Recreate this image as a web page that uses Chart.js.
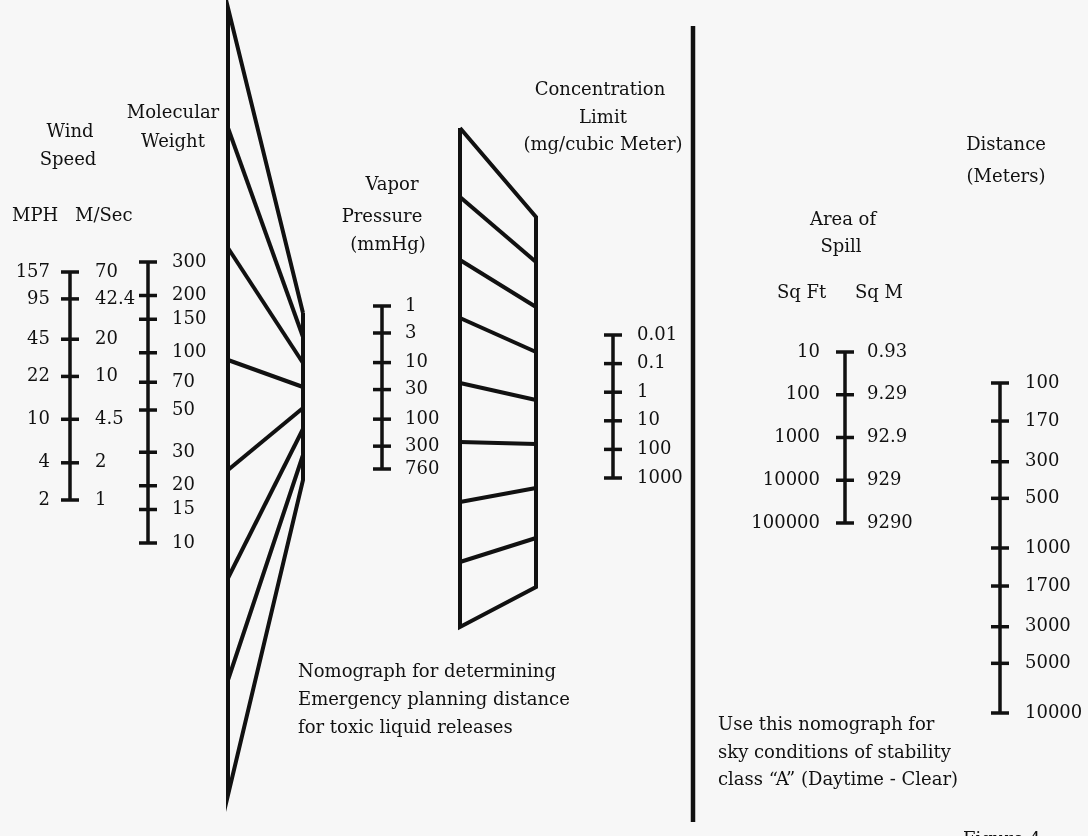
<!DOCTYPE html>
<html>
<head>
<meta charset="utf-8">
<title>Emergency planning distance nomograph</title>
<script src="https://cdn.jsdelivr.net/npm/chart.js@4.4.1/dist/chart.umd.min.js"></script>
<style>
  html, body { margin: 0; padding: 0; background: #f7f7f7; }
  #wrap { position: relative; width: 1088px; height: 836px; }
</style>
</head>
<body>
<div id="wrap"><canvas id="nomo"></canvas></div>
<script>
// Scale readings (top to bottom on each scale)
const windMps = [70, 42.4, 20, 10, 4.5, 2, 1];
const windMph = [157, 95, 45, 22, 10, 4, 2];
const molWeight = [300, 200, 150, 100, 70, 50, 30, 20, 15, 10];
const vaporPressure = [1, 3, 10, 30, 100, 300, 760];
const concLimit = [0.01, 0.1, 1, 10, 100, 1000];
const spillSqFt = [10, 100, 1000, 10000, 100000];
const spillSqM = [0.93, 9.29, 92.9, 929, 9290];
const distance = [100, 170, 300, 500, 1000, 1700, 3000, 5000, 10000];

// Turning lines (figure units), left end / right end
const fanLeft = [8, 128, 248, 360, 470, 578, 680, 795];
const fanRight = [313, 337, 363, 387, 408, 429, 455, 480];
const gridLeft = [128, 197, 260, 318, 383, 442, 502, 562, 627];
const gridRight = [217, 262, 307, 352, 400, 444, 488, 538, 587];

const W = 1088, H = 836;
const INK = '#111';
const FONT = '18px "DejaVu Serif", "Liberation Serif", serif';

// where each log scale sits on the sheet
const scalesDef = [
  { id: 'wind', x: 70, top: 272, bottom: 500, values: windMps, right: windMps, left: windMph, gapL: 20, gapR: 25 },
  { id: 'mw', x: 148, top: 262, bottom: 543, values: molWeight, right: molWeight, gapR: 24 },
  { id: 'vp', x: 382, top: 306, bottom: 469, values: vaporPressure, right: vaporPressure, gapR: 23 },
  { id: 'conc', x: 613, top: 335, bottom: 478, values: concLimit, right: concLimit, gapR: 24 },
  { id: 'spill', x: 845, top: 352, bottom: 523, values: spillSqM, right: spillSqM, left: spillSqFt, gapL: 25, gapR: 22 },
  { id: 'dist', x: 1000, top: 383, bottom: 713, values: distance, right: distance, gapR: 25 }
];

const captions = [
  ['Wind', 70, 132, 'center'], ['Speed', 68, 160, 'center'],
  ['Molecular', 173, 113, 'center'], ['Weight', 173, 142, 'center'],
  ['MPH', 12, 216, 'left'], ['M/Sec', 75, 216, 'left'],
  ['Vapor', 392, 185, 'center'], ['Pressure', 382, 217, 'center'], ['(mmHg)', 388, 245, 'center'],
  ['Concentration', 600, 90, 'center'], ['Limit', 603, 118, 'center'], ['(mg/cubic Meter)', 603, 145, 'center'],
  ['Distance', 1006, 145, 'center'], ['(Meters)', 1006, 177, 'center'],
  ['Area of', 843, 220, 'center'], ['Spill', 841, 247, 'center'],
  ['Sq Ft', 777, 293, 'left'], ['Sq M', 855, 293, 'left'],
  ['Nomograph for determining', 298, 672, 'left'],
  ['Emergency planning distance', 298, 700, 'left'],
  ['for toxic liquid releases', 298, 728, 'left'],
  ['Use this nomograph for', 718, 725, 'left'],
  ['sky conditions of stability', 718, 753, 'left'],
  ['class \u201CA\u201D (Daytime - Clear)', 718, 780, 'left'],
  ['Figure 4', 963, 840, 'left']
];

// min/max for a log axis so that the end values land on the given rows
function logAxis(vTop, vBottom, pTop, pBottom) {
  const a = Math.log10(vTop), b = Math.log10(vBottom);
  const perPx = (b - a) / (pBottom - pTop);
  const atTop = a - pTop * perPx;
  const atBottom = b + (H - pBottom) * perPx;
  return {
    type: 'logarithmic',
    display: false,
    bounds: 'data',
    reverse: perPx > 0,
    min: Math.pow(10, Math.min(atTop, atBottom)),
    max: Math.pow(10, Math.max(atTop, atBottom))
  };
}

const scales = {
  x: { type: 'linear', display: false, min: 0, max: W },
  fig: { type: 'linear', display: false, min: 0, max: H, reverse: true }
};
scalesDef.forEach(s => {
  const v = s.values;
  scales[s.id] = logAxis(v[0], v[v.length - 1], s.top, s.bottom);
});

function seg(points, axis, width) {
  return {
    data: points,
    yAxisID: axis,
    showLine: true,
    borderColor: INK,
    borderWidth: width,
    borderJoinStyle: 'miter',
    pointRadius: 0,
    tension: 0
  };
}

const datasets = [];

// log scales: spine + tick marks
scalesDef.forEach(s => {
  const v = s.values;
  datasets.push(seg([{ x: s.x, y: v[0] }, { x: s.x, y: v[v.length - 1] }], s.id, 3.5));
  datasets.push({
    data: v.map(val => ({ x: s.x, y: val })),
    yAxisID: s.id,
    showLine: false,
    pointStyle: 'line',
    pointRadius: 9,
    pointBorderWidth: 3.5,
    pointBorderColor: INK,
    pointBackgroundColor: INK
  });
});

// fan of turning lines
const FAN_L = 228, FAN_R = 303;
const nf = fanLeft.length - 1;
datasets.push(seg([
  { x: FAN_R, y: fanRight[0] }, { x: FAN_L, y: fanLeft[0] },
  { x: FAN_L, y: fanLeft[nf] }, { x: FAN_R, y: fanRight[nf] },
  { x: FAN_R, y: fanRight[0] }
], 'fig', 4));
for (let i = 1; i < nf; i++) {
  datasets.push(seg([{ x: FAN_L, y: fanLeft[i] }, { x: FAN_R, y: fanRight[i] }], 'fig', 4));
}

// slanted ladder between vapor pressure and concentration
const GR_L = 460, GR_R = 536;
const ng = gridLeft.length - 1;
datasets.push(seg([
  { x: GR_L, y: gridLeft[0] }, { x: GR_L, y: gridLeft[ng] },
  { x: GR_R, y: gridRight[ng] }, { x: GR_R, y: gridRight[0] },
  { x: GR_L, y: gridLeft[0] }
], 'fig', 4));
for (let i = 1; i < ng; i++) {
  datasets.push(seg([{ x: GR_L, y: gridLeft[i] }, { x: GR_R, y: gridRight[i] }], 'fig', 4));
}

// divider between the two halves
datasets.push(seg([{ x: 693, y: 26 }, { x: 693, y: 822 }], 'fig', 4.5));

// tick labels and captions
const textPlugin = {
  id: 'nomoText',
  afterDraw(chart) {
    const ctx = chart.ctx;
    ctx.save();
    ctx.font = FONT;
    ctx.fillStyle = INK;
    ctx.textBaseline = 'middle';
    scalesDef.forEach(s => {
      const sc = chart.scales[s.id];
      s.values.forEach((val, i) => {
        const y = sc.getPixelForValue(val);
        if (s.right) {
          ctx.textAlign = 'left';
          ctx.fillText(String(s.right[i]), s.x + s.gapR, y);
        }
        if (s.left) {
          ctx.textAlign = 'right';
          ctx.fillText(String(s.left[i]), s.x - s.gapL, y);
        }
      });
    });
    captions.forEach(([t, x, y, align]) => {
      ctx.textAlign = align;
      ctx.fillText(t, x, y);
    });
    ctx.restore();
  }
};

new Chart(document.getElementById('nomo'), {
  type: 'scatter',
  data: { datasets },
  options: {
    responsive: true,
    maintainAspectRatio: false,
    animation: false,
    layout: { autoPadding: false, padding: 0 },
    plugins: { legend: { display: false }, tooltip: { enabled: false } },
    scales
  },
  plugins: [textPlugin]
});
</script>
</body>
</html>
